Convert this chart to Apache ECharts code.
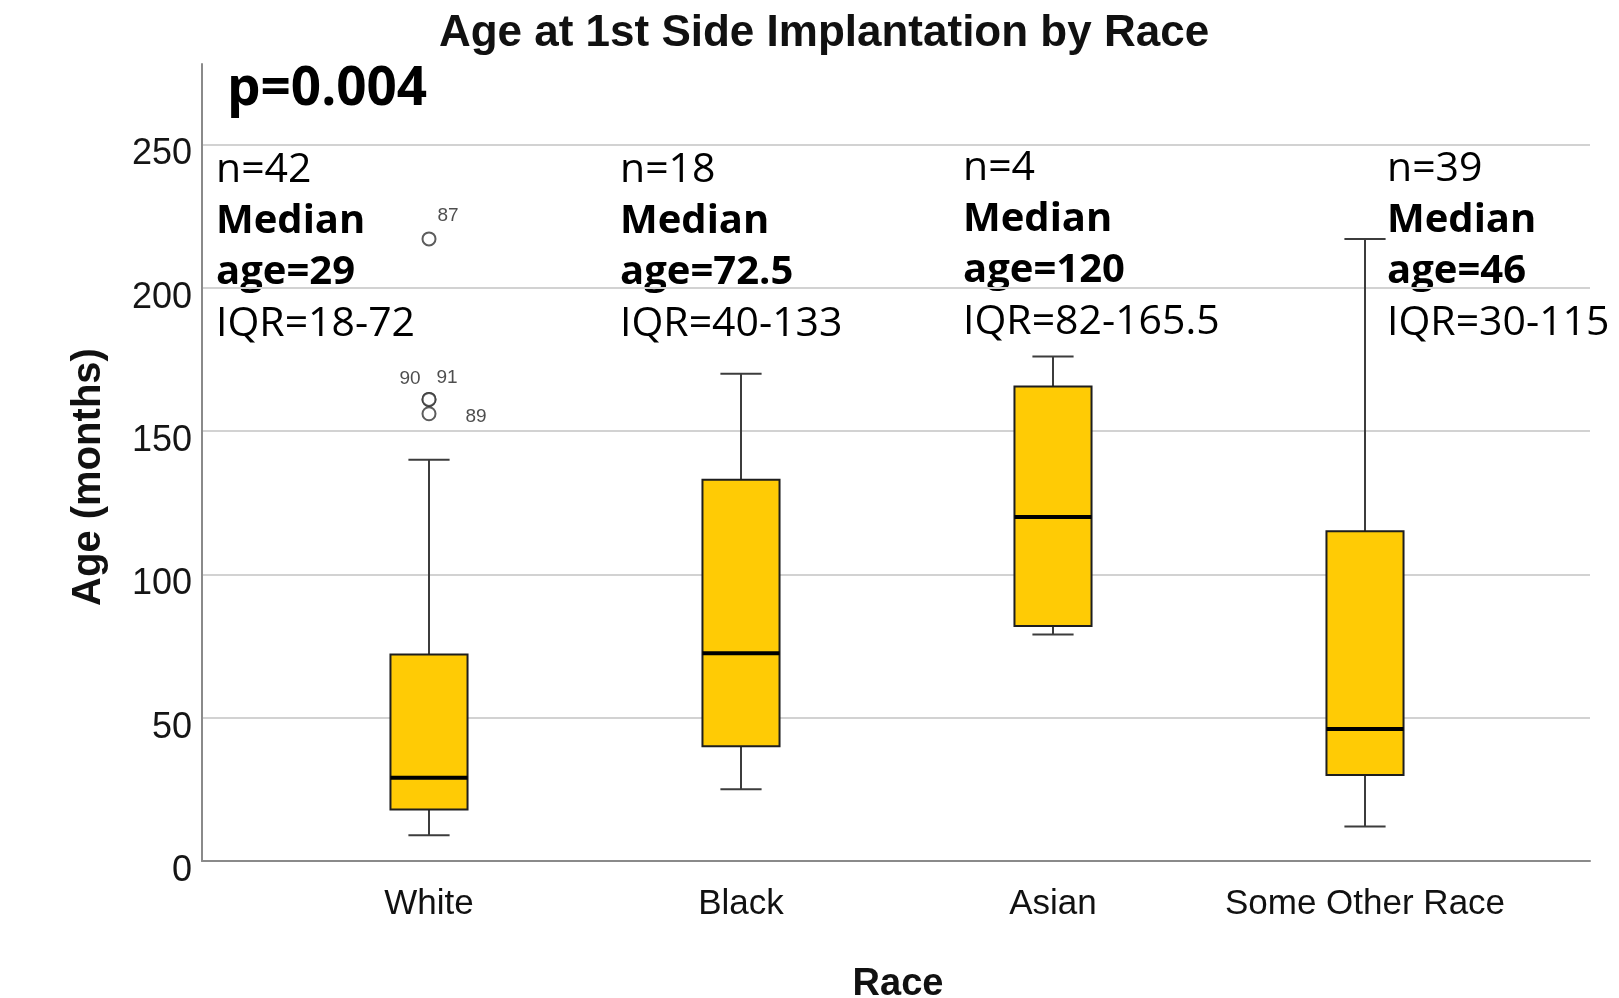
<!DOCTYPE html>
<html>
<head>
<meta charset="utf-8">
<title>Age at 1st Side Implantation by Race</title>
<script src="https://cdn.jsdelivr.net/npm/echarts@6/dist/echarts.min.js"></script>
<style>
  html, body { margin: 0; padding: 0; background: #fff; }
  #chart { width: 1619px; height: 998px; }
</style>
</head>
<body>
<div id="chart"></div>
<script>
// Age at first-side implantation (months), summarised per race group
const races = ['White', 'Black', 'Asian', 'Some Other Race'];
const sampleSizes = [42, 18, 4, 39];
const whiskerLow = [9, 25, 79, 12];
const quartile1 = [18, 40, 82, 30];
const medians = [29, 72.5, 120, 46];
const quartile3 = [72, 133, 165.5, 115];
const whiskerHigh = [140, 170, 176, 217];

// Outlying cases (all in the White group), labelled with case number
const outlierGroup = [0, 0, 0, 0];
const outlierAges = [217, 161, 161, 156];
const outlierCases = ['87', '90', '91', '89'];

const pValue = '0.004';

// Value axis
const yMin = 0;
const yMax = 278;
const yStep = 50;

// ---- presentation ----
const SPSS_FONT = 'Liberation Sans, Arial, sans-serif';
const NOTE_FONT = 'Open Sans, Noto Sans, sans-serif';
const caseLabelOffset = { '87': [19, -23], '90': [-19, -21], '91': [18, -22], '89': [47, 3] };
const noteLeft = [216, 620, 963, 1387];
const noteFirstLine = [170, 170, 168, 169];
const noteLineHeight = 51.5;

const boxRows = races.map((r, i) => [i, whiskerLow[i], quartile1[i], medians[i], quartile3[i], whiskerHigh[i]]);

function renderBox(params, api) {
  const c = api.value(0);
  const lo = api.coord([c, api.value(1)]);
  const q1 = api.coord([c, api.value(2)]);
  const md = api.coord([c, api.value(3)]);
  const q3 = api.coord([c, api.value(4)]);
  const hi = api.coord([c, api.value(5)]);
  const band = api.size([1, 0])[0];
  const cx = lo[0];
  const bw = band * 0.247;
  const cw = band * 0.132;
  const whisker = { stroke: '#3c3c3c', lineWidth: 2 };
  return {
    type: 'group',
    children: [
      { type: 'line', shape: { x1: cx, y1: hi[1], x2: cx, y2: q3[1] }, style: whisker },
      { type: 'line', shape: { x1: cx, y1: q1[1], x2: cx, y2: lo[1] }, style: whisker },
      { type: 'line', shape: { x1: cx - cw / 2, y1: hi[1], x2: cx + cw / 2, y2: hi[1] }, style: whisker },
      { type: 'line', shape: { x1: cx - cw / 2, y1: lo[1], x2: cx + cw / 2, y2: lo[1] }, style: whisker },
      { type: 'rect', shape: { x: cx - bw / 2, y: q3[1], width: bw, height: q1[1] - q3[1] },
        style: { fill: '#ffcb05', stroke: '#1e1e1e', lineWidth: 2 } },
      { type: 'line', shape: { x1: cx - bw / 2, y1: md[1], x2: cx + bw / 2, y2: md[1] },
        style: { stroke: '#000', lineWidth: 4 } }
    ]
  };
}

const notes = races.map((r, i) => ({
  type: 'text',
  x: noteLeft[i],
  y: noteFirstLine[i] - noteLineHeight / 2,
  style: {
    text: '{r|n=' + sampleSizes[i] + '}\n{b|Median}\n{b|age=' + medians[i] + '}\n{r|IQR=' + quartile1[i] + '-' + quartile3[i] + '}',
    align: 'left',
    verticalAlign: 'top',
    rich: {
      r: { fontFamily: NOTE_FONT, fontSize: 41, lineHeight: noteLineHeight, fill: '#000' },
      b: { fontFamily: NOTE_FONT, fontSize: 40, fontWeight: 'bold', lineHeight: noteLineHeight, fill: '#000' }
    }
  }
}));

const chart = echarts.init(document.getElementById('chart'), null, { renderer: 'canvas' });

chart.setOption({
  animation: false,
  backgroundColor: '#ffffff',
  grid: [
    { left: 202, right: 29, top: 64, bottom: 137 },
    { left: 273, right: 98, top: 64, bottom: 137 }
  ],
  xAxis: [
    {
      gridIndex: 0, type: 'value', min: 0, max: 1, position: 'bottom',
      axisLine: { show: true, onZero: false, lineStyle: { color: '#8a8a8a', width: 2 } },
      axisTick: { show: false }, axisLabel: { show: false }, splitLine: { show: false }
    },
    {
      gridIndex: 1, type: 'category', data: races, boundaryGap: true,
      axisLine: { show: false }, axisTick: { show: false },
      axisLabel: { interval: 0, fontFamily: SPSS_FONT, fontSize: 35, lineHeight: 36, color: '#111', margin: 25 }
    }
  ],
  yAxis: [
    {
      gridIndex: 0, type: 'value', min: yMin, max: yMax, interval: yStep,
      axisLine: { show: true, lineStyle: { color: '#8a8a8a', width: 2 } },
      axisTick: { show: false },
      axisLabel: {
        fontFamily: SPSS_FONT, fontSize: 36, color: '#151515', margin: 10,
        verticalAlign: 'top', lineHeight: 20, showMaxLabel: false,
        formatter: v => (v % yStep === 0 ? String(v) : '')
      },
      splitLine: { show: true, showMinLine: false, showMaxLine: false, lineStyle: { color: '#d2d2d2', width: 2 } }
    },
    {
      gridIndex: 1, type: 'value', min: yMin, max: yMax, interval: yStep, show: false,
      splitLine: { show: false }
    }
  ],
  series: [
    {
      name: 'Age (months)',
      type: 'custom',
      xAxisIndex: 1, yAxisIndex: 1,
      renderItem: renderBox,
      encode: { x: 0, y: [1, 2, 3, 4, 5] },
      data: boxRows,
      z: 3
    },
    {
      name: 'Outliers',
      type: 'scatter',
      xAxisIndex: 1, yAxisIndex: 1,
      symbol: 'emptyCircle',
      symbolSize: 13,
      itemStyle: { color: '#333', borderColor: '#333', borderWidth: 1.8 },
      label: {
        show: true, position: 'inside',
        fontFamily: SPSS_FONT, fontSize: 19, color: '#222',
        formatter: p => outlierCases[p.dataIndex]
      },
      data: outlierAges.map((v, i) => ({
        value: [outlierGroup[i], v],
        label: { offset: caseLabelOffset[outlierCases[i]] }
      })),
      z: 4
    }
  ],
  graphic: [
    {
      type: 'text', x: 824, y: 34,
      style: {
        text: 'Age at 1st Side Implantation by Race',
        fontFamily: SPSS_FONT, fontSize: 44, fontWeight: 'bold', fill: '#111',
        align: 'center', verticalAlign: 'middle'
      }
    },
    {
      type: 'text', x: 89, y: 477, rotation: Math.PI / 2,
      style: {
        text: 'Age (months)',
        fontFamily: SPSS_FONT, fontSize: 40, fontWeight: 'bold', fill: '#111',
        align: 'center', verticalAlign: 'middle'
      }
    },
    {
      type: 'text', x: 898, y: 985,
      style: {
        text: 'Race',
        fontFamily: SPSS_FONT, fontSize: 38, fontWeight: 'bold', fill: '#111',
        align: 'center', verticalAlign: 'middle'
      }
    },
    {
      type: 'text', x: 227, y: 90,
      style: {
        text: 'p=' + pValue,
        fontFamily: NOTE_FONT, fontSize: 53, fontWeight: 'bold', fill: '#000',
        align: 'left', verticalAlign: 'middle'
      }
    }
  ].concat(notes)
});
</script>
</body>
</html>
